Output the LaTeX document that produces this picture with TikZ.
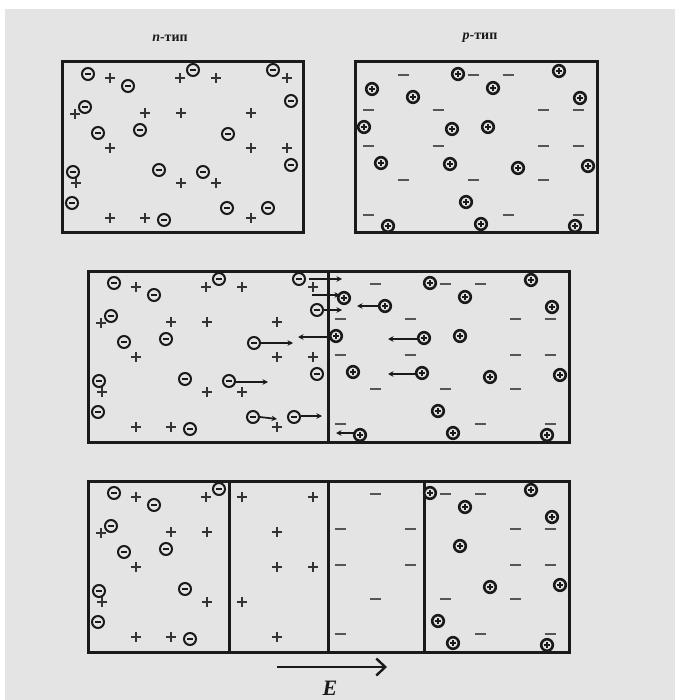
\documentclass[tikz,border=0pt]{standalone}
\usepackage{fontspec}
\newfontfamily\cyrfont{Liberation Serif}
\usetikzlibrary{arrows.meta}
\definecolor{bggray}{HTML}{E4E4E4}
\definecolor{ink}{HTML}{1A1A1A}
\definecolor{iongray}{HTML}{333333}
\definecolor{accgray}{HTML}{555555}
\tikzset{
  elec/.pic={\draw[ink,fill=bggray,line width=2pt] (0,0) circle (6pt);
             \draw[ink,line width=1.4pt] (-3.2pt,0) -- (3.2pt,0);},
  hole/.pic={\draw[ink,fill=bggray,line width=2.6pt] (0,0) circle (5.8pt);
             \draw[ink,line width=1.5pt] (-3.2pt,0) -- (3.2pt,0) (0,-3.2pt) -- (0,3.2pt);},
  donor/.pic={\draw[iongray,line width=2.4pt] (-5pt,0) -- (5pt,0) (0,-5pt) -- (0,5pt);},
  acceptor/.pic={\draw[accgray,line width=2.8pt] (-5.5pt,0) -- (5.5pt,0);},
  frame/.style={ink,line width=3pt},
  drift/.style={ink,line width=1.7pt,-{Stealth[length=5.5pt,width=5.5pt]}},
  title/.style={font=\cyrfont\bfseries\fontsize{14}{14}\selectfont,text=ink},
}
% positions in the two separate crystals (top row)
\newcommand\nelec{88/74,128/86,193/70,273/70,85/107,291/101,98/133,140/130,228/134,73/172,159/170,203/172,291/165,72/203,227/208,268/208,164/220}
\newcommand\nelecleft{88/74,128/86,193/70,85/107,98/133,140/130,73/172,159/170,72/203,164/220}
\newcommand\ndonor{110/78,180/78,216/78,287/78,75/114,145/113,181/113,251/113,110/148,251/148,287/148,76/183,181/183,216/183,110/218,145/218,251/218}
\newcommand\phole{458/74,559/71,372/89,413/97,493/88,580/98,364/127,452/129,488/127,381/163,450/164,518/168,588/166,466/202,388/226,481/224,575/226}
\newcommand\pholeright{458/74,559/71,493/88,580/98,488/127,518/168,588/166,466/202,481/224,575/226}
\newcommand\paccept{403/75,473/75,508/75,368/110,438/110,543/110,578/110,368/146,438/146,543/146,578/146,403/180,473/180,543/180,368/215,508/215,578/215}
\begin{document}
\begin{tikzpicture}[x=1pt,y=-1pt]
  \fill[white] (0,0) rectangle (675,700);
  \fill[bggray] (5,9) rectangle (675,700);
  \useasboundingbox (0,0) rectangle (675,700);

  % separate n and p crystals
  \node[title] (ntitle) at (170,38) {\textit{n}-тип};
  \node[title] (ptitle) at (480,38) {\textit{p}-тип};
  \draw[frame] (62,62) rectangle (303,233);
  \draw[frame] (355,62) rectangle (597,233);
  \foreach \x/\y in \ndonor {\pic at (\x,\y) {donor};}
  \foreach \x/\y in \nelec {\pic at (\x,\y) {elec};}
  \foreach \x/\y in \paccept {\pic at (\x,\y) {acceptor};}
  \foreach \x/\y in \phole {\pic at (\x,\y) {hole};}

  % contact: diffusion of carriers
  \draw[frame] (88,271) rectangle (569,442);
  \draw[frame] (328,271) -- (328,442);
  \begin{scope}[shift={(26,209)}]
    \foreach \x/\y in \ndonor {\pic at (\x,\y) {donor};}
    \foreach \x/\y in \nelec {\pic at (\x,\y) {elec};}
  \end{scope}
  \begin{scope}[shift={(-28,209)}]
    \foreach \x/\y in \paccept {\pic at (\x,\y) {acceptor};}
    \foreach \x/\y in \phole {\pic at (\x,\y) {hole};}
  \end{scope}
  \draw[drift] (309,279) -- (342,279);
  \draw[drift] (312,295) -- (340,295);
  \draw[drift] (324,310) -- (342,310);
  \draw[drift] (260,343) -- (293,343);
  \draw[drift] (235,382) -- (268,382);
  \draw[drift] (260,417) -- (277,419);
  \draw[drift] (301,416) -- (322,416);
  \draw[drift] (380,306) -- (357,306);
  \draw[drift] (331,337) -- (298,337);
  \draw[drift] (419,339) -- (388,339);
  \draw[drift] (416,374) -- (388,374);
  \draw[drift] (355,433) -- (336,433);

  % depletion layer
  \draw[frame] (88,481) rectangle (569,652);
  \draw[frame] (229,481) -- (229,652);
  \draw[frame] (328,481) -- (328,652);
  \draw[frame] (424,481) -- (424,652);
  \begin{scope}[shift={(26,419)}]
    \foreach \x/\y in \ndonor {\pic at (\x,\y) {donor};}
    \foreach \x/\y in \nelecleft {\pic at (\x,\y) {elec};}
  \end{scope}
  \begin{scope}[shift={(-28,419)}]
    \foreach \x/\y in \paccept {\pic at (\x,\y) {acceptor};}
    \foreach \x/\y in \pholeright {\pic at (\x,\y) {hole};}
  \end{scope}

  % field
  \coordinate (Estart) at (277,667);
  \coordinate (Eend) at (387,667);
  \draw[ink,line width=2.4pt,-{Straight Barb[length=9pt,width=17pt]}] (Estart) -- (Eend);
  \node[font=\cyrfont\bfseries\itshape\fontsize{22}{22}\selectfont,text=ink] (Elabel) at (330,688) {E};
\end{tikzpicture}
\end{document}
